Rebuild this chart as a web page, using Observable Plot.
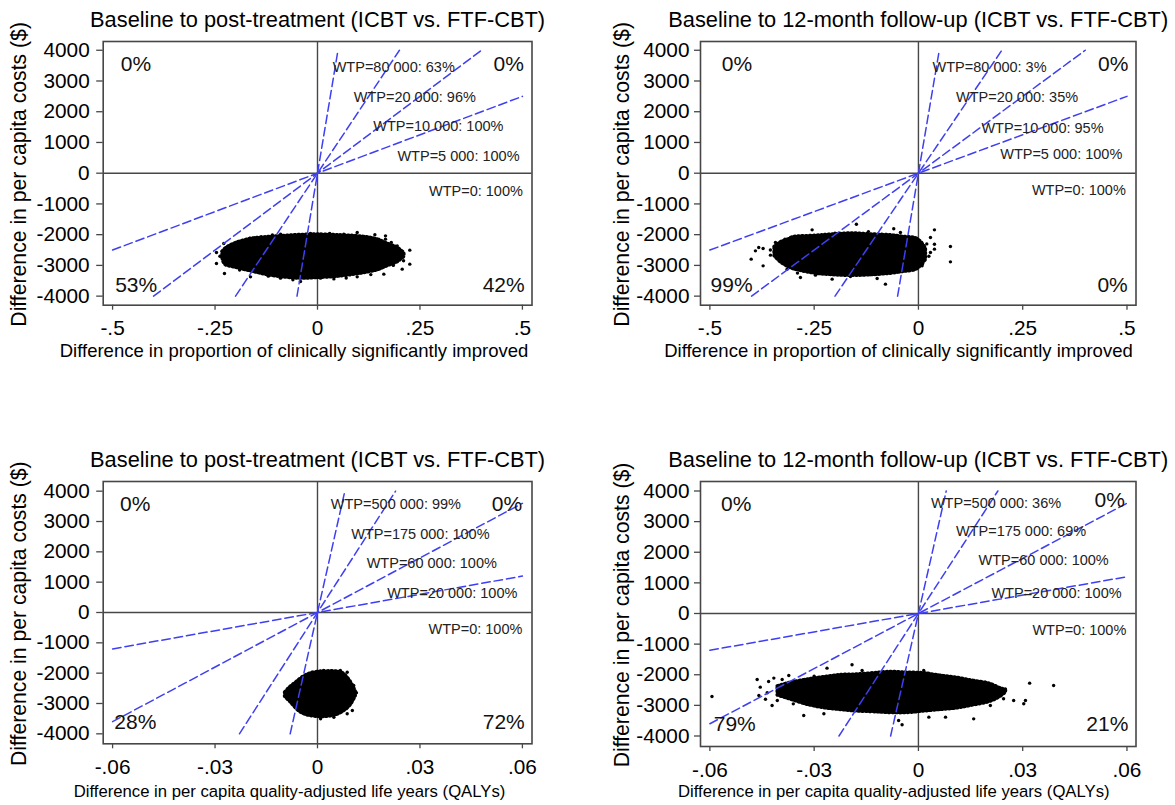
<!DOCTYPE html>
<html>
<head>
<meta charset="utf-8">
<script src="https://cdn.jsdelivr.net/npm/d3@7"></script>
<script src="https://cdn.jsdelivr.net/npm/@observablehq/plot@0.6"></script>
<style>
  html, body { margin: 0; padding: 0; background: #fff; }
  #root { position: relative; width: 1175px; height: 805px; overflow: hidden; background: #fff; }
</style>
</head>
<body>
<div id="root"></div>
<script>
// ---------------- DATA ----------------
const titlePost = "Baseline to post-treatment (ICBT vs. FTF-CBT)";
const titleFollow = "Baseline to 12-month follow-up (ICBT vs. FTF-CBT)";
const yLabel = "Difference in per capita costs ($)";
const xLabelTop = "Difference in proportion of clinically significantly improved";
const xLabelBottom = "Difference in per capita quality-adjusted life years (QALYs)";

const yTicks = [-4000, -3000, -2000, -1000, 0, 1000, 2000, 3000, 4000];
const xTicksTop = [-0.5, -0.25, 0, 0.25, 0.5];
const xTickLabelsTop = ["-.5", "-.25", "0", ".25", ".5"];
const xTicksBottom = [-0.06, -0.03, 0, 0.03, 0.06];
const xTickLabelsBottom = ["-.06", "-.03", "0", ".03", ".06"];

// willingness-to-pay thresholds (slopes of the dashed lines)
const wtpTop = [80000, 20000, 10000, 5000];
const wtpBottom = [500000, 175000, 60000, 20000];

// WTP labels and their positions (data units)
const wtpTextTL = ["WTP=80 000: 63%", "WTP=20 000: 96%", "WTP=10 000: 100%", "WTP=5 000: 100%", "WTP=0: 100%"];
const wtpXTL = [0.037, 0.0885, 0.136, 0.195, 0.272];
const wtpYTL = [3434, 2481, 1515, 563, -576];
const wtpTextTR = ["WTP=80 000: 3%", "WTP=20 000: 35%", "WTP=10 000: 95%", "WTP=5 000: 100%", "WTP=0: 100%"];
const wtpXTR = [0.0338, 0.090, 0.151, 0.196, 0.272];
const wtpYTR = [3434, 2459, 1463, 618, -543];
const wtpTextBL = ["WTP=500 000: 99%", "WTP=175 000: 100%", "WTP=60 000: 100%", "WTP=20 000: 100%", "WTP=0: 100%"];
const wtpXBL = [0.0039, 0.0099, 0.0144, 0.0204, 0.0325];
const wtpYBL = [3561, 2562, 1606, 617, -570];
const wtpTextBR = ["WTP=500 000: 36%", "WTP=175 000: 69%", "WTP=60 000: 100%", "WTP=20 000: 100%", "WTP=0: 100%"];
const wtpXBR = [0.0036, 0.0108, 0.0173, 0.021, 0.0328];
const wtpYBR = [3582, 2678, 1731, 663, -555];

// quadrant shares: NW, NE, SW, SE
const quadTL = ["0%", "0%", "53%", "42%"];
const quadXTL = [-0.480, 0.5037, -0.4937, 0.5056];
const quadYTL = [3545, 3545, -3632, -3632];
const quadTR = ["0%", "0%", "99%", "0%"];
const quadXTR = [-0.4716, 0.5035, -0.4984, 0.5018];
const quadYTR = [3545, 3545, -3642, -3642];
const quadBL = ["0%", "0%", "28%", "72%"];
const quadXBL = [-0.0578, 0.0599, -0.0595, 0.0607];
const quadYBL = [3584, 3584, -3607, -3607];
const quadBR = ["0%", "0%", "79%", "21%"];
const quadXBR = [-0.0568, 0.0594, -0.0589, 0.0604];
const quadYBR = [3582, 3690, -3602, -3602];

// dense part of the bootstrap clouds: [effect, lower cost, upper cost]
const cloudTL = [
  [-0.232, -2760, -2560], [-0.225, -2980, -2460], [-0.204, -3060, -2300], [-0.1635, -3190, -2140],
  [-0.1228, -3310, -2080], [-0.0822, -3390, -2040], [-0.0415, -3430, -2010], [0, -3410, -1995],
  [0.056, -3360, -2020], [0.105, -3270, -2060], [0.146, -3160, -2150], [0.170, -3030, -2290],
  [0.195, -2900, -2420], [0.212, -2720, -2600]
];
const cloudTR = [
  [-0.345, -2700, -2400], [-0.33, -2900, -2250], [-0.311, -3060, -2150], [-0.30, -3120, -2080],
  [-0.251, -3260, -2040], [-0.211, -3310, -2000], [-0.163, -3340, -1960], [-0.115, -3320, -1990],
  [-0.067, -3270, -2020], [-0.035, -3210, -2070], [-0.007, -3150, -2110], [0.006, -3020, -2230],
  [0.018, -2820, -2450]
];
const cloudBL = [
  [-0.0095, -2780, -2640], [-0.0079, -2960, -2450], [-0.0064, -3150, -2320], [-0.005, -3290, -2190],
  [-0.003, -3390, -2050], [0, -3440, -1960], [0.0028, -3440, -1940], [0.0058, -3370, -1950],
  [0.0077, -3260, -2020], [0.0097, -3060, -2280], [0.0112, -2760, -2600]
];
const cloudBR = [
  [-0.0405, -2680, -2380], [-0.0368, -2810, -2260], [-0.032, -2980, -2160], [-0.0272, -3090, -2080],
  [-0.0224, -3150, -2010], [-0.0176, -3200, -1990], [-0.0129, -3220, -1950], [-0.0081, -3250, -1910],
  [-0.0033, -3250, -1930], [0.0015, -3200, -1950], [0.0063, -3150, -2030], [0.0111, -3100, -2100],
  [0.0159, -3000, -2200], [0.0207, -2880, -2300], [0.0236, -2720, -2440], [0.0252, -2580, -2500]
];

// scattered replicates at the fringe of each cloud: [effect, cost]
const dotsTL = [
  [-0.2465, -2582], [-0.2465, -2940], [-0.227, -3265], [-0.2286, -2289], [-0.204, -2332], [-0.165, -2114],
  [-0.1374, -2072], [-0.090, -1984], [-0.0578, -2029], [-0.017, -1964], [0.0237, -2039], [0.0642, -1984],
  [0.0969, -1932], [0.1213, -2094], [0.1659, -2039], [0.1659, -2146], [0.1945, -2364], [0.2252, -2504],
  [0.2252, -2959], [0.2067, -3122], [0.1618, -3285], [0.0969, -3372], [0.0073, -3415], [-0.0415, -3525],
  [-0.0903, -3415], [-0.1635, -3372], [-0.215, -2450], [-0.22, -2800], [-0.19, -3150], [-0.12, -3350],
  [0.04, -3440], [0.13, -3300], [0.185, -3000], [0.2, -2700], [0.14, -2000], [-0.11, -2010], [0.03, -1960],
  [-0.238, -2700], [-0.18, -2200], [-0.06, -3470], [0.07, -3410], [0.18, -2250], [0.21, -2850]
];
const dotsTR = [
  [-0.401, -2797], [-0.3908, -2527], [-0.3829, -2419], [-0.3724, -2452], [-0.3724, -3015], [-0.3548, -2667],
  [-0.3428, -2257], [-0.3309, -2387], [-0.3149, -3122], [-0.2829, -3395], [-0.2469, -3317], [-0.2549, -1844],
  [-0.2069, -3447], [-0.163, -3363], [-0.1487, -1659], [-0.099, -3428], [-0.0791, -3610], [-0.0592, -1807],
  [-0.0432, -1932], [0.0288, -2094], [0.0384, -1844], [0.0384, -2310], [0.0384, -2472], [0.0288, -2580],
  [0.0127, -2797], [0.0088, -3015], [0.0767, -2387], [0.0767, -2885], [-0.2, -1950], [-0.12, -1900],
  [-0.355, -2500], [-0.32, -2150], [-0.29, -3250], [0.02, -2300], [0.025, -2700], [0.01, -2950]
];
const dotsBL = [
  [-0.0091, -2737], [-0.0084, -2496], [-0.0069, -3043], [-0.0055, -3175], [-0.0035, -3340], [-0.0016, -1968],
  [-0.0045, -2186], [0.0067, -1912], [0.0087, -1968], [0.0106, -2407], [0.0114, -2648], [0.0102, -3231],
  [0.0087, -3340], [0.0048, -3452], [0.0009, -3505], [0.0018, -1912]
];
const dotsBR = [
  [-0.0594, -2710], [-0.0464, -2155], [-0.0455, -2405], [-0.0459, -2678], [-0.0435, -2590], [-0.0431, -2220],
  [-0.0416, -2110], [-0.0421, -3004], [-0.0392, -2155], [-0.0373, -2024], [-0.0406, -2841], [-0.0263, -1785],
  [-0.0191, -1676], [-0.0162, -1861], [0.00153, -1861], [-0.0081, -1916], [0.0193, -2243], [0.0245, -2786],
  [0.025, -2460], [0.0274, -2841], [0.0303, -2949], [0.0308, -2841], [0.032, -2275], [0.0389, -2351],
  [-0.033, -3331], [-0.0272, -3276], [-0.0047, -3635], [-0.0057, -3494], [0.0078, -3385], [0.0159, -3440],
  [0.003, -3385], [0.0207, -3004], [0.0226, -2732], [-0.044, -2800], [-0.036, -2950], [-0.03, -2050]
];

// ---------------- DRAWING ----------------
const FONT = "'Liberation Sans', Arial, Helvetica, sans-serif";
const BLUE = "#3f3ff2";
const GRAY = "#474747";

function panel(o) {
  const f = o.frame;
  const mL = f.L - o.svgX, mR = o.svgX + o.svgW - f.R;
  const mT = f.T - o.svgY, mB = o.svgY + o.svgH - f.B;
  const ends = w => Math.min(o.xLimit, o.yLimit / w);
  const segs = o.wtp.flatMap((w, i) => [
    {k: i, x: -ends(w), y: -ends(w) * w},
    {k: i, x: ends(w), y: ends(w) * w}
  ]);
  const wtpLabels = o.wtpText.map((t, i) => ({t, x: o.wtpX[i], y: o.wtpY[i]}));
  const quads = o.quad.map((t, i) => ({t, x: o.quadX[i], y: o.quadY[i], left: i % 2 === 0}));
  const xTickMap = new Map(o.xTicks.map((v, i) => [v, o.xTickLabels[i]]));

  const svg = Plot.plot({
    width: o.svgW, height: o.svgH,
    marginLeft: mL, marginRight: mR, marginTop: mT, marginBottom: mB,
    style: {fontFamily: FONT, background: "transparent", overflow: "visible", color: "#000"},
    x: {domain: o.xDomain},
    y: {domain: o.yDomain},
    marks: [
      Plot.ruleX([0], {stroke: GRAY, strokeWidth: 1.4}),
      Plot.ruleY([0], {stroke: GRAY, strokeWidth: 1.4}),
      Plot.areaY(o.cloud, {x: d => d[0], y1: d => d[1], y2: d => d[2], fill: "#000", curve: "catmull-rom",
        stroke: "#000", strokeWidth: 3.4, strokeDasharray: "1.2,2.6", strokeLinecap: "round"}),
      Plot.dot(o.dots, {x: d => d[0], y: d => d[1], r: 1.7, fill: "#000", stroke: "none"}),
      Plot.line(segs, {x: "x", y: "y", z: "k", stroke: BLUE, strokeWidth: 1.5, strokeDasharray: "8.5,4"}),
      Plot.text(wtpLabels, {x: "x", y: "y", text: "t", textAnchor: "start", fontSize: 14.5, fill: "#222"}),
      Plot.text(quads.filter(d => d.left), {x: "x", y: "y", text: "t", textAnchor: "start", fontSize: 21, fill: "#111"}),
      Plot.text(quads.filter(d => !d.left), {x: "x", y: "y", text: "t", textAnchor: "end", fontSize: 21, fill: "#111"}),
      Plot.frame({stroke: GRAY, strokeWidth: 1.6}),
      Plot.axisX(o.xTicks, {tickFormat: d => xTickMap.get(d), tickSize: 5, tickPadding: 10.5, fontSize: 20.8, stroke: GRAY, strokeWidth: 1.3, label: null}),
      Plot.axisY(yTicks, {tickFormat: d => String(d), tickSize: o.yTickSize, tickPadding: o.yTickPad, fontSize: 20.8, stroke: GRAY, strokeWidth: 1.3, label: null}),
      Plot.text([o.title], {text: d => d, frameAnchor: "top", textAnchor: "middle", lineAnchor: "middle", dy: -21.5, fontSize: 21.8, fill: "#000"}),
      Plot.text([yLabel], {text: d => d, frameAnchor: "left", textAnchor: "middle", lineAnchor: "middle", rotate: -90, dx: o.yLabDx, dy: 1, fontSize: 21.2, fill: "#000"}),
      Plot.text([o.xLabel], {text: d => d, frameAnchor: "bottom", textAnchor: "middle", lineAnchor: "middle", dx: o.xLabDx, dy: o.xLabDy, fontSize: o.xLabSize, fill: "#000"})
    ]
  });
  svg.style.position = "absolute";
  svg.style.left = o.svgX + "px";
  svg.style.top = o.svgY + "px";
  document.getElementById("root").appendChild(svg);
}

panel({
  svgX: 0, svgY: 0, svgW: 590, svgH: 400,
  frame: {L: 102.7, R: 531.5, T: 41, B: 304.7},
  xDomain: [-0.5229, 0.5234], yDomain: [-4295, 4285], xLimit: 0.5, yLimit: 4000,
  xTicks: xTicksTop, xTickLabels: xTickLabelsTop,
  wtp: wtpTop, wtpText: wtpTextTL, wtpX: wtpXTL, wtpY: wtpYTL,
  quad: quadTL, quadX: quadXTL, quadY: quadYTL,
  cloud: cloudTL, dots: dotsTL,
  title: titlePost, xLabel: xLabelTop, xLabSize: 18.5, xLabDx: -23.6, xLabDy: 46,
  yLabDx: -83.8, yTickSize: 6.5, yTickPad: 7
});
panel({
  svgX: 590, svgY: 0, svgW: 585, svgH: 400,
  frame: {L: 700, R: 1135.5, T: 41, B: 304.7},
  xDomain: [-0.5225, 0.5216], yDomain: [-4295, 4285], xLimit: 0.5, yLimit: 4000,
  xTicks: xTicksTop, xTickLabels: xTickLabelsTop,
  wtp: wtpTop, wtpText: wtpTextTR, wtpX: wtpXTR, wtpY: wtpYTR,
  quad: quadTR, quadX: quadXTR, quadY: quadYTR,
  cloud: cloudTR, dots: dotsTR,
  title: titleFollow, xLabel: xLabelTop, xLabSize: 18.5, xLabDx: -19.8, xLabDy: 46,
  yLabDx: -77.8, yTickSize: 6, yTickPad: 5
});
panel({
  svgX: 0, svgY: 420, svgW: 590, svgH: 385,
  frame: {L: 102.7, R: 531.5, T: 481, B: 743.3},
  xDomain: [-0.06275, 0.06281], yDomain: [-4329, 4319], xLimit: 0.06, yLimit: 4000,
  xTicks: xTicksBottom, xTickLabels: xTickLabelsBottom,
  wtp: wtpBottom, wtpText: wtpTextBL, wtpX: wtpXBL, wtpY: wtpYBL,
  quad: quadBL, quadX: quadXBL, quadY: quadYBL,
  cloud: cloudBL, dots: dotsBL,
  title: titlePost, xLabel: xLabelBottom, xLabSize: 16.7, xLabDx: -28.1, xLabDy: 47.9,
  yLabDx: -83.8, yTickSize: 6.5, yTickPad: 7
});
panel({
  svgX: 590, svgY: 420, svgW: 585, svgH: 385,
  frame: {L: 700, R: 1135.5, T: 481, B: 746},
  xDomain: [-0.0627, 0.0626], yDomain: [-4343, 4310], xLimit: 0.06, yLimit: 4000,
  xTicks: xTicksBottom, xTickLabels: xTickLabelsBottom,
  wtp: wtpBottom, wtpText: wtpTextBR, wtpX: wtpXBR, wtpY: wtpYBR,
  quad: quadBR, quadX: quadXBR, quadY: quadYBR,
  cloud: cloudBR, dots: dotsBR,
  title: titleFollow, xLabel: xLabelBottom, xLabSize: 16.7, xLabDx: -24.5, xLabDy: 45.2,
  yLabDx: -77.8, yTickSize: 6, yTickPad: 5
});
</script>
</body>
</html>
